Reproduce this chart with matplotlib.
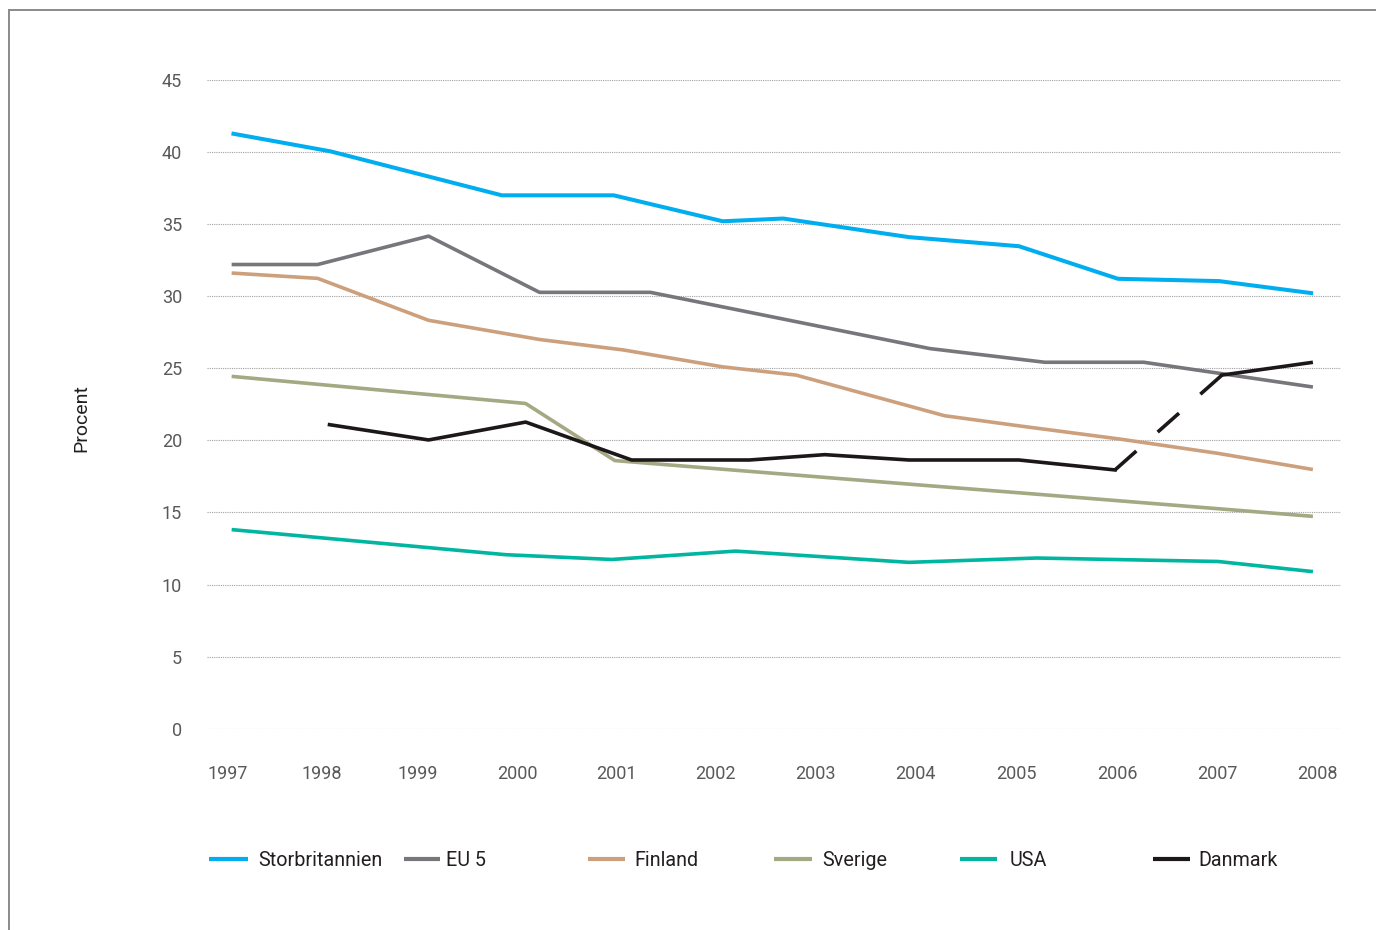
import matplotlib
matplotlib.use("Agg")
import matplotlib.pyplot as plt
from matplotlib.lines import Line2D

plt.rcParams['font.family'] = ['Roboto', 'DejaVu Sans']

# ---- data (x positions in fractional years) ----
years = list(range(1997, 2009))
year_labels = [str(y) for y in years]
y_ticks = [0, 5, 10, 15, 20, 25, 30, 35, 40, 45]

uk_x = [1997.06, 1998.04, 1999.77, 2000.90, 2002.00, 2002.61, 2003.88, 2004.99, 2005.99, 2007.01, 2007.94]
uk_y = [41.27, 40.05, 37.0, 37.0, 35.2, 35.39, 34.1, 33.47, 31.21, 31.05, 30.22]

eu5_x = [1997.06, 1997.91, 1999.03, 2000.15, 2001.27, 2004.09, 2005.25, 2006.25, 2007.94]
eu5_y = [32.2, 32.2, 34.17, 30.27, 30.27, 26.37, 25.42, 25.42, 23.72]

fin_x = [1997.06, 1997.91, 1999.03, 2000.15, 2001.0, 2002.0, 2002.74, 2004.24, 2005.0, 2006.0, 2007.0, 2007.94]
fin_y = [31.6, 31.24, 28.33, 27.0, 26.27, 25.1, 24.53, 21.71, 21.0, 20.1, 19.1, 18.0]

swe_x = [1997.06, 2000.01, 2000.91, 2002.0, 2003.0, 2004.0, 2005.0, 2006.0, 2007.0, 2007.94]
swe_y = [24.43, 22.56, 18.6, 18.0, 17.45, 16.9, 16.36, 15.81, 15.26, 14.74]

usa_x = [1997.06, 1999.81, 2000.88, 2002.13, 2003.88, 2005.17, 2007.0, 2007.94]
usa_y = [13.8, 12.07, 11.74, 12.32, 11.54, 11.84, 11.6, 10.91]

dk_x = [1998.03, 1999.03, 2000.01, 2001.08, 2002.27, 2003.03, 2003.88, 2004.99, 2005.96, 2007.04, 2007.94]
dk_y = [21.09, 20.03, 21.27, 18.64, 18.64, 19.01, 18.64, 18.64, 17.95, 24.53, 25.4]

series_names = ["Storbritannien", "EU 5", "Finland", "Sverige", "USA", "Danmark"]
colors = ["#00AEEF", "#77777B", "#CDA07D", "#A4A883", "#00B6A0", "#1C1718"]

# ---- layout ----
W, H = 1376, 930
fig = plt.figure(figsize=(W / 100, H / 100), dpi=100)

ax_left, ax_right = 207, 1341
ax_top, ax_bottom = 80, 728.7
ax = fig.add_axes([ax_left / W, (H - ax_bottom) / H, (ax_right - ax_left) / W, (ax_bottom - ax_top) / H])

px0, step = 227.5, 99.05
ax.set_xlim(1997 + (ax_left - px0) / step, 1997 + (ax_right - px0) / step)
ax.set_ylim(0, 45)

# tick label placement as in the original artwork (slightly uneven)
label_pos = [1997.0, 1997.951, 1998.923, 1999.928, 2000.929, 2001.922, 2002.931,
             2003.949, 2004.968, 2005.980, 2006.995, 2008.0]

for s in ax.spines.values():
    s.set_visible(False)

ax.set_yticks(y_ticks)
ax.set_yticklabels([str(v) for v in y_ticks])
ax.set_xticks(label_pos)
ax.set_xticklabels(year_labels)
ax.tick_params(axis='both', length=0, labelsize=13, labelcolor="#58595B")
ax.tick_params(axis='y', pad=18)
ax.tick_params(axis='x', pad=26)
ax.grid(axis='y', color="#a0a0a0", linewidth=0.8, linestyle=(0, (1, 1)))
ax.grid(axis='x', visible=False)
ax.set_axisbelow(True)

lw = 2.6
ax.plot(uk_x, uk_y, color=colors[0], lw=2.9, clip_on=False)
ax.plot(eu5_x, eu5_y, color=colors[1], lw=lw, clip_on=False)
ax.plot(fin_x, fin_y, color=colors[2], lw=lw, clip_on=False)
ax.plot(swe_x, swe_y, color=colors[3], lw=lw, clip_on=False)
ax.plot(usa_x, usa_y, color=colors[4], lw=lw, clip_on=False)
# Danmark: solid up to 2006, dashed 2006-2007, solid afterwards
ax.plot(dk_x[:9], dk_y[:9], color=colors[5], lw=lw, clip_on=False)
ax.plot(dk_x[8:10], dk_y[8:10], color=colors[5], lw=lw, dashes=(7.9, 7.9), dash_capstyle='butt', clip_on=False)
ax.plot(dk_x[9:], dk_y[9:], color=colors[5], lw=lw, clip_on=False)

# y-axis title
fig.text(81 / W, 1 - 418 / H, "Procent", rotation=90, ha='center', va='center', fontsize=14, color="#231F20")

# legend drawn manually
leg_marker_x = [(209, 248), (404, 440), (588, 625), (774, 812), (960, 997), (1153, 1190)]
leg_text_x = [258, 446, 634, 822, 1010, 1198]
leg_y = 1 - 859 / H
for (a, b), tx, name, c in zip(leg_marker_x, leg_text_x, series_names, colors):
    fig.add_artist(Line2D([a / W, b / W], [leg_y, leg_y], color=c, lw=3.0, solid_capstyle='butt',
                          transform=fig.transFigure))
    fig.text(tx / W, leg_y - 1.5 / H, name, ha='left', va='center', fontsize=14.2, color="#231F20")

# outer frame (left and top border)
fig.add_artist(Line2D([8.5 / W, 8.5 / W], [0, 1 - 10.5 / H], color="#8a8a8a", lw=1.4, transform=fig.transFigure))
fig.add_artist(Line2D([8.5 / W, 1], [1 - 10.5 / H, 1 - 10.5 / H], color="#8a8a8a", lw=1.4, transform=fig.transFigure))

fig.savefig("out.png", dpi=100)
